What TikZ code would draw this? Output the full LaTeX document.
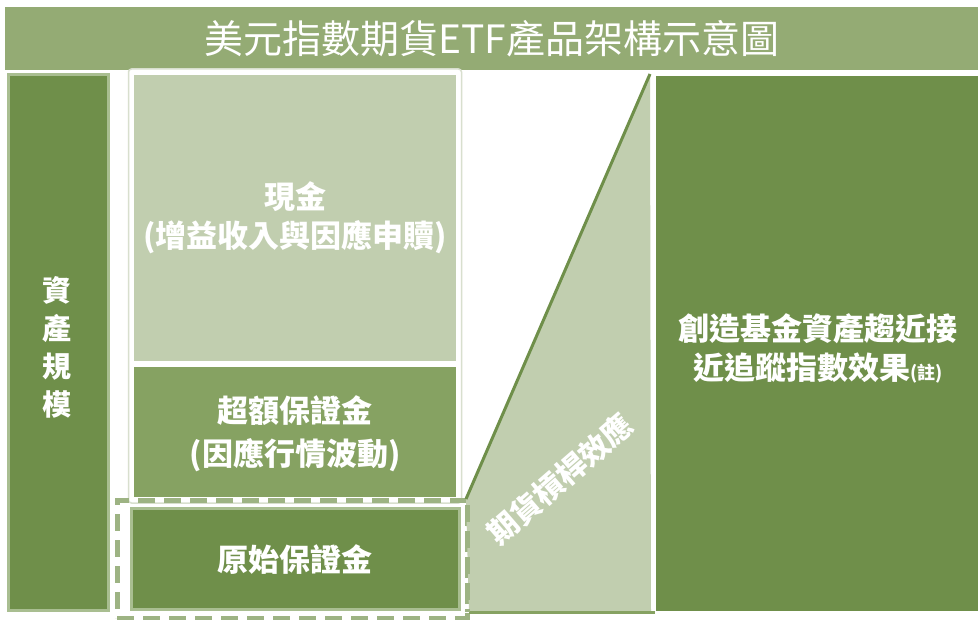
\documentclass[tikz,border=0pt]{standalone}
\usepackage{fontspec}
\setmainfont{Noto Sans CJK TC}
\definecolor{titleg}{HTML}{94AB74}
\definecolor{darkg}{HTML}{6F8F4A}
\definecolor{midg}{HTML}{86A262}
\definecolor{lightg}{HTML}{C1CEAF}
\definecolor{borderg}{HTML}{A9BE91}
\definecolor{dashg}{HTML}{9DB383}
\definecolor{frameg}{HTML}{D8DFCE}
\tikzset{
  box/.style={rectangle, inner sep=0pt, outer sep=0pt, anchor=center},
  lbl/.style={text=white, font=\fontsize{31}{39}\selectfont\bfseries, align=center, inner sep=0pt},
}
\begin{document}
\begin{tikzpicture}[x=1pt,y=-1pt]
\useasboundingbox (0,0) rectangle (978,620);
\fill[white] (0,0) rectangle (978,620);
% title bar
\node[box, fill=titleg, minimum width=973pt, minimum height=63pt] (title) at (491.5,38.5) {};
\node[text=white, font=\fontsize{39}{42}\selectfont, inner sep=0pt] (titletext) at (492,39) {美元指數期貨ETF產品架構示意圖};
% left box
\node[box, fill=darkg, draw=borderg, line width=3pt, minimum width=100pt, minimum height=536pt] (left) at (58.5,342.5) {};
\node[lbl, font=\fontsize{29}{38}\selectfont\bfseries] (lefttext) at (57,347) {資\\產\\規\\模};
% middle frame
\draw[frameg, line width=1.5pt, fill=white, rounded corners=3pt] (128.5,69) rectangle (461.5,503);
\node[box, fill=lightg, minimum width=322pt, minimum height=286pt] (cash) at (295,218) {};
\node[lbl] (cashtext) at (295,218) {現金\\(增益收入與因應申贖)};
\node[box, fill=midg, minimum width=322pt, minimum height=130pt] (excess) at (295,432) {};
\node[lbl, font=\fontsize{31}{43}\selectfont\bfseries] (excesstext) at (295,434) {超額保證金\\(因應行情波動)};
% dashed frame
\node[box, draw=dashg, line width=5pt, dash pattern=on 17pt off 9pt, minimum width=350pt, minimum height=118pt] (dashframe) at (292,559) {};
\node[box, fill=darkg, draw=borderg, line width=2.5pt, minimum width=328pt, minimum height=101pt] (initial) at (295.5,559) {};
\node[lbl] (initialtext) at (295,560) {原始保證金};
% trapezoid
\coordinate (tl) at (466,499);
\coordinate (tt) at (650,74);
\coordinate (tb) at (651,612);
\coordinate (bl) at (469,612);
\fill[lightg] (tl) -- (tt) -- (tb) -- (bl) -- cycle;
\draw[darkg, line width=3pt] (tl) -- (tt);
\draw[midg, line width=3pt] (bl) -- (655,612);
\draw[dashg, line width=5pt, dash pattern=on 17pt off 9pt] (467,505) -- (467,612);
\node[text=white, font=\fontsize{30}{32}\selectfont\bfseries, rotate=41, inner sep=0pt] (lever) at (560,479) {期貨槓桿效應};
% right box
\node[box, fill=darkg, minimum width=322pt, minimum height=535pt] (right) at (817,343.5) {};
\node[lbl, font=\fontsize{31}{39}\selectfont\bfseries] (righttext) at (818,348) {創造基金資產趨近接\\近追蹤指數效果{\fontsize{18}{20}\selectfont(註)}};
\end{tikzpicture}
\end{document}
